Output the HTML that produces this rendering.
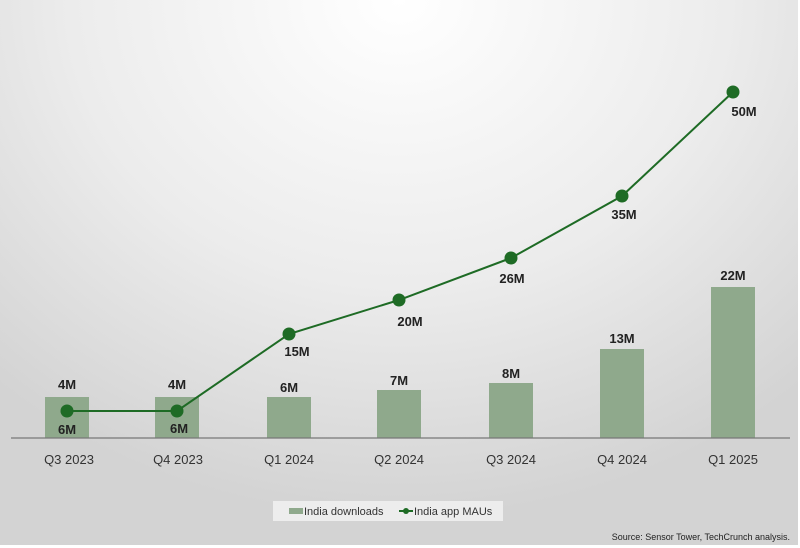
<!DOCTYPE html>
<html><head><style>
html,body{margin:0;padding:0;}
body{width:800px;height:548px;overflow:hidden;background:#fff;}
.c{position:absolute;left:0;top:0;width:798px;height:545px;background:radial-gradient(ellipse 75% 95% at 50% 0%,#ffffff 0%,#ececec 55%,#d3d3d3 100%);}
</style></head><body>
<div class="c"></div>
<svg width="800" height="548" style="position:absolute;left:0;top:0" font-family="Liberation Sans, sans-serif">
<g fill="#8fa98c">
<rect x="45" y="397" width="44" height="41"/>
<rect x="155" y="397" width="44" height="41"/>
<rect x="267" y="397" width="44" height="41"/>
<rect x="377" y="390" width="44" height="48"/>
<rect x="489" y="383" width="44" height="55"/>
<rect x="600" y="349" width="44" height="89"/>
<rect x="711" y="287" width="44" height="151"/>
</g>
<line x1="11" y1="438" x2="790" y2="438" stroke="#777" stroke-width="1.2"/>
<polyline points="67,411 177,411 289,334 399,300 511,258 622,196 733,92" fill="none" stroke="#1e6b25" stroke-width="2"/>
<g fill="#1e6b25">
<circle cx="67" cy="411" r="6.5"/><circle cx="177" cy="411" r="6.5"/><circle cx="289" cy="334" r="6.5"/><circle cx="399" cy="300" r="6.5"/><circle cx="511" cy="258" r="6.5"/><circle cx="622" cy="196" r="6.5"/><circle cx="733" cy="92" r="6.5"/>
</g>
<g font-size="13" font-weight="bold" fill="#222" text-anchor="middle">
<text x="67" y="389">4M</text><text x="177" y="389">4M</text><text x="289" y="392">6M</text><text x="399" y="385">7M</text><text x="511" y="378">8M</text><text x="622" y="343">13M</text><text x="733" y="280">22M</text>
<text x="67" y="434">6M</text><text x="179" y="433">6M</text><text x="297" y="356">15M</text><text x="410" y="326">20M</text><text x="512" y="283">26M</text><text x="624" y="219">35M</text><text x="744" y="116">50M</text>
</g>
<g font-size="13" fill="#333" text-anchor="middle">
<text x="69" y="464">Q3 2023</text><text x="178" y="464">Q4 2023</text><text x="289" y="464">Q1 2024</text><text x="399" y="464">Q2 2024</text><text x="511" y="464">Q3 2024</text><text x="622" y="464">Q4 2024</text><text x="733" y="464">Q1 2025</text>
</g>
<rect x="273" y="501" width="230" height="20" fill="#ededed"/>
<rect x="289" y="508" width="14" height="6" fill="#8fa98c"/>
<text x="304" y="515" font-size="11" fill="#333">India downloads</text>
<line x1="399" y1="511" x2="413" y2="511" stroke="#1e6b25" stroke-width="2"/>
<circle cx="406" cy="511" r="3" fill="#1e6b25"/>
<text x="414" y="515" font-size="11" fill="#333">India app MAUs</text>
<text x="790" y="540" font-size="9" fill="#222" text-anchor="end">Source: Sensor Tower, TechCrunch analysis.</text>
</svg>
</body></html>
